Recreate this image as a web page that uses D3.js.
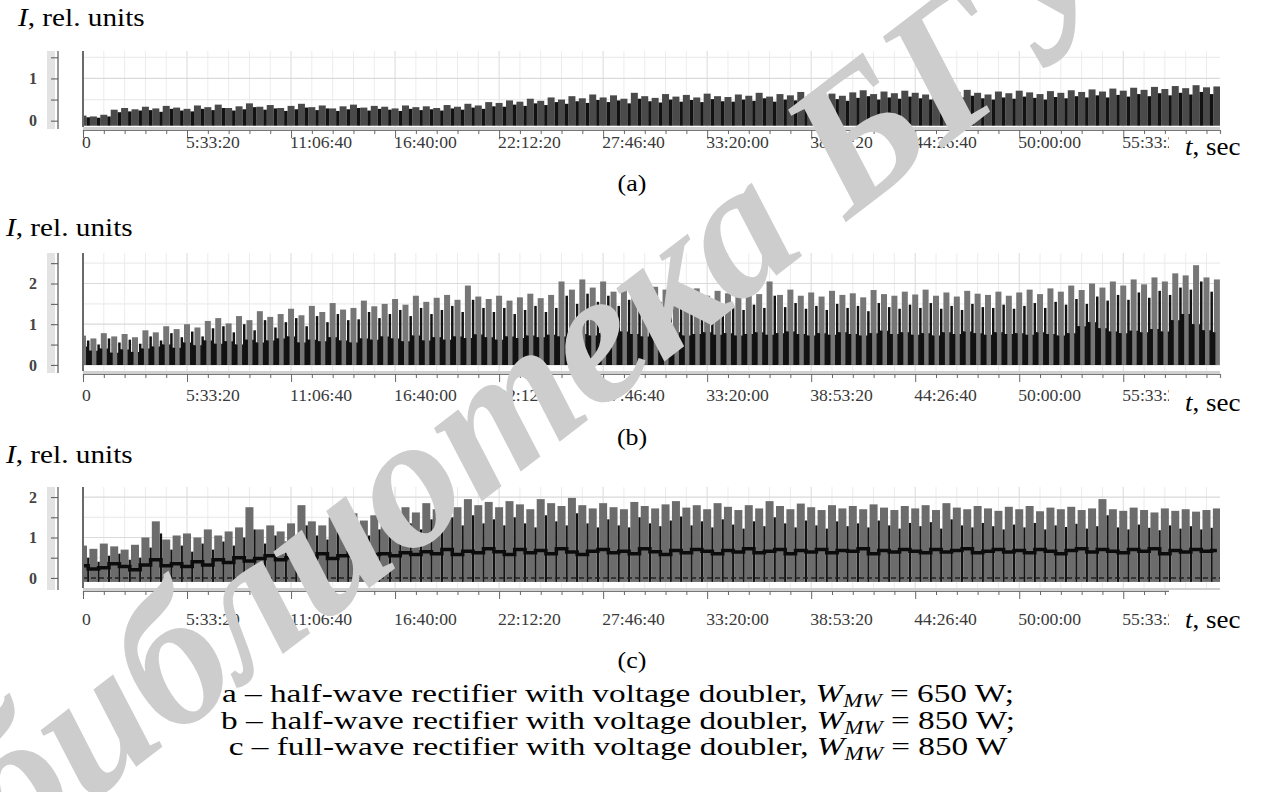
<!DOCTYPE html>
<html><head><meta charset="utf-8">
<script src="https://cdn.jsdelivr.net/npm/d3@7"></script>
<style>body{margin:0;background:#fff} svg{display:block}</style>
</head><body><svg id="c" width="1261" height="792"></svg>
<script>
// ---------- data ----------
const tickSeconds = [0,20000,40000,60000,80000,100000,120000,140000,160000,180000,200000];
const tickLabels = ["0","5:33:20","11:06:40","16:40:00","22:12:20","27:46:40","33:20:00","38:53:20","44:26:40","50:00:00","55:33:20"];
const sampleStep = 2000; // s between read samples
const tMax = 218600;

// (a) half-wave, 650 W
const aHi = [0.12,0.10,0.14,0.26,0.30,0.27,0.33,0.29,0.35,0.31,
 0.28,0.36,0.32,0.38,0.30,0.34,0.41,0.33,0.37,0.30,
 0.35,0.40,0.32,0.36,0.29,0.34,0.38,0.31,0.35,0.33,
 0.29,0.36,0.32,0.34,0.30,0.37,0.33,0.40,0.36,0.44,
 0.42,0.48,0.45,0.52,0.47,0.55,0.50,0.58,0.53,0.62,
 0.55,0.60,0.52,0.66,0.58,0.54,0.63,0.57,0.61,0.55,
 0.64,0.58,0.56,0.62,0.59,0.66,0.57,0.63,0.60,0.68,
 0.62,0.70,0.64,0.59,0.67,0.72,0.63,0.69,0.65,0.71,
 0.66,0.62,0.70,0.64,0.68,0.73,0.66,0.62,0.69,0.65,
 0.71,0.67,0.63,0.70,0.66,0.72,0.68,0.74,0.69,0.76,
 0.71,0.78,0.73,0.80,0.75,0.82,0.77,0.84,0.79,0.81];
const aDark = [0.08,0.07,0.10,0.20,0.22,0.24,0.25,0.21,0.28,0.24,
 0.22,0.28,0.25,0.30,0.24,0.27,0.32,0.26,0.29,0.23,
 0.27,0.31,0.25,0.29,0.23,0.27,0.30,0.24,0.28,0.26,
 0.23,0.28,0.25,0.27,0.24,0.29,0.26,0.31,0.28,0.34,
 0.33,0.38,0.35,0.41,0.37,0.44,0.40,0.46,0.42,0.49,
 0.44,0.48,0.41,0.52,0.46,0.43,0.50,0.45,0.49,0.44,
 0.51,0.46,0.45,0.50,0.47,0.53,0.45,0.50,0.48,0.54,
 0.50,0.56,0.51,0.47,0.54,0.58,0.50,0.55,0.52,0.57,
 0.53,0.50,0.56,0.51,0.55,0.59,0.53,0.50,0.55,0.52,
 0.57,0.54,0.50,0.56,0.53,0.58,0.55,0.60,0.55,0.61,
 0.57,0.63,0.58,0.65,0.60,0.66,0.62,0.68,0.63,0.66];
const aFloor = -0.12;

// (b) half-wave, 850 W
const bHi = [0.72,0.65,0.78,0.70,0.76,0.68,0.85,0.80,0.95,0.88,
 1.00,0.92,1.08,1.15,1.02,1.20,1.10,1.32,1.18,1.25,
 1.38,1.22,1.45,1.30,1.52,1.36,1.40,1.58,1.44,1.50,
 1.62,1.48,1.70,1.55,1.65,1.72,1.60,1.95,1.68,1.62,
 1.70,1.58,1.66,1.75,1.64,1.72,2.05,1.85,2.10,1.90,
 2.05,1.80,1.98,2.08,1.75,1.92,1.85,2.00,1.78,1.88,
 1.70,1.82,1.76,1.68,1.80,1.74,2.05,1.72,1.85,1.70,
 1.78,1.68,1.82,1.72,1.76,1.66,1.84,1.74,1.70,1.80,
 1.73,1.85,1.70,1.78,1.68,1.82,1.75,1.72,1.80,1.70,
 1.78,1.85,1.74,1.88,1.80,1.95,1.84,2.00,1.90,2.05,
 1.95,2.10,1.98,2.15,2.05,2.25,2.20,2.45,2.15,2.10];
const bDark = [0.60,0.50,0.65,0.55,0.62,0.52,0.70,0.60,0.78,0.68,
 0.82,0.70,0.90,0.95,0.80,1.00,0.85,1.10,0.92,1.05,
 1.15,0.95,1.20,1.05,1.25,1.10,1.12,1.30,1.15,1.25,
 1.35,1.20,1.40,1.25,1.35,1.45,1.30,1.60,1.40,1.30,
 1.40,1.25,1.35,1.45,1.30,1.40,1.70,1.50,1.75,1.55,
 1.70,1.45,1.60,1.72,1.40,1.55,1.50,1.65,1.42,1.55,
 1.40,1.50,1.45,1.35,1.48,1.40,1.70,1.42,1.52,1.38,
 1.45,1.35,1.50,1.40,1.45,1.32,1.52,1.42,1.38,1.48,
 1.40,1.52,1.38,1.45,1.35,1.50,1.42,1.40,1.48,1.38,
 1.45,1.52,1.40,1.55,1.48,1.62,1.50,1.68,1.58,1.72,
 1.60,1.78,1.65,1.82,1.72,1.90,1.85,2.05,1.80,1.75];
const bBase = [0.45,0.35,0.40,0.30,0.38,0.32,0.40,0.45,0.50,0.42,
 0.55,0.48,0.60,0.52,0.58,0.50,0.62,0.55,0.60,0.65,
 0.70,0.55,0.62,0.58,0.68,0.60,0.55,0.65,0.62,0.70,
 0.65,0.58,0.72,0.60,0.68,0.62,0.70,0.66,0.75,0.68,
 0.62,0.70,0.66,0.72,0.68,0.74,0.70,0.80,0.76,0.72,
 0.78,0.74,0.82,0.76,0.70,0.78,0.74,0.80,0.72,0.76,
 0.80,0.74,0.78,0.72,0.76,0.80,0.74,0.78,0.82,0.76,
 0.72,0.78,0.74,0.80,0.76,0.72,0.78,0.84,0.76,0.80,
 0.74,0.78,0.72,0.80,0.76,0.82,0.78,0.74,0.80,0.76,
 0.78,0.74,0.80,0.76,0.72,0.78,0.95,1.05,0.90,0.82,
 0.78,0.84,0.80,0.88,0.82,1.10,1.25,1.00,0.85,0.80];

// (c) full-wave, 850 W
const cHi = [0.80,0.72,0.85,0.78,0.70,0.82,1.00,1.40,0.95,1.05,
 1.10,1.00,1.20,1.05,1.15,1.25,1.75,1.20,1.30,1.15,
 1.35,1.80,1.40,1.30,1.50,1.45,1.60,1.42,1.55,1.65,
 1.55,1.75,1.62,1.85,1.70,1.90,1.75,1.95,1.80,1.88,
 1.75,1.90,1.82,1.70,1.95,1.85,1.78,1.98,1.80,1.72,
 1.85,1.75,1.70,1.88,1.78,1.72,1.82,1.90,1.74,1.80,
 1.70,1.85,1.76,1.68,1.80,1.72,1.90,1.78,1.70,1.84,
 1.75,1.68,1.80,1.72,1.78,1.70,1.82,1.74,1.68,1.78,
 1.72,1.80,1.68,1.85,1.74,1.70,1.78,1.72,1.66,1.76,
 1.70,1.78,1.65,1.74,1.70,1.76,1.68,1.72,1.95,1.70,
 1.66,1.74,1.68,1.62,1.72,1.66,1.70,1.64,1.68,1.72];
const cDark = [0.50,0.40,0.55,0.60,0.45,0.50,0.75,1.10,0.70,0.80,
 0.65,0.85,0.70,0.90,0.80,1.00,1.20,0.85,1.05,0.90,
 1.00,1.30,1.05,0.95,1.15,1.10,1.25,1.05,1.20,1.30,
 1.15,1.35,1.20,1.45,1.25,1.50,1.30,1.55,1.35,1.45,
 1.30,1.50,1.35,1.25,1.55,1.40,1.30,1.60,1.35,1.25,
 1.45,1.30,1.25,1.50,1.35,1.28,1.42,1.52,1.30,1.40,
 1.25,1.45,1.32,1.22,1.40,1.28,1.50,1.35,1.25,1.42,
 1.30,1.22,1.40,1.28,1.35,1.25,1.42,1.30,1.22,1.36,
 1.28,1.38,1.22,1.45,1.30,1.25,1.36,1.28,1.20,1.32,
 1.25,1.36,1.20,1.30,1.26,1.34,1.22,1.28,1.55,1.25,
 1.20,1.32,1.24,1.18,1.30,1.22,1.28,1.20,1.24,1.30];
const cCore = [0.30,0.22,0.25,0.35,0.28,0.20,0.32,0.45,0.30,0.35,
 0.28,0.40,0.32,0.45,0.38,0.50,0.42,0.48,0.55,0.45,
 0.50,0.58,0.52,0.60,0.48,0.55,0.62,0.50,0.58,0.60,
 0.55,0.62,0.58,0.65,0.60,0.70,0.58,0.66,0.62,0.72,
 0.65,0.58,0.70,0.62,0.68,0.60,0.72,0.64,0.58,0.66,
 0.70,0.62,0.66,0.60,0.72,0.65,0.58,0.68,0.62,0.70,
 0.66,0.60,0.68,0.64,0.72,0.62,0.66,0.70,0.60,0.68,
 0.64,0.70,0.62,0.68,0.66,0.72,0.60,0.68,0.64,0.70,
 0.66,0.62,0.70,0.64,0.68,0.72,0.62,0.66,0.70,0.64,
 0.68,0.62,0.70,0.66,0.60,0.68,0.72,0.64,0.70,0.66,
 0.62,0.70,0.66,0.72,0.60,0.68,0.64,0.70,0.66,0.68];

const panelLetters = ["(a)","(b)","(c)"];
const captionRows = [
  ["a – half-wave rectifier with voltage doubler, ", "650 W;"],
  ["b – half-wave rectifier with voltage doubler, ", "850 W;"],
  ["c – full-wave rectifier with voltage doubler, ", "850 W"]
];
const watermarkText = "библиотека БГУИР";

// ---------- drawing ----------
const svg = d3.select("#c");
const serif = "'Liberation Serif','Times New Roman',serif";
const x = d3.scaleLinear().domain([0, tMax]).range([83, 1220]);
const minorTicks = d3.range(0, tMax, 4000);
const layerPlots = svg.append("g");
const layerMark = svg.append("g");
const layerText = svg.append("g");

// text with a horizontal stretch (the reference page is scaled wider than tall)
function sText(parent, px, py, size, stretch, anchor) {
  return parent.append("text")
    .attr("transform", `translate(${px},${py}) scale(${stretch},1)`)
    .attr("text-anchor", anchor || "start")
    .attr("font-family", serif).attr("font-size", size).attr("fill", "#000");
}

function drawPanel(p, idx) {
  const y = d3.scaleLinear().domain(p.yDomain).range([p.bottom, p.top]);
  const g = layerPlots.append("g");
  const clipId = "clip" + idx;
  svg.append("clipPath").attr("id", clipId).append("rect")
    .attr("x", x(0)).attr("y", p.top).attr("width", x(tMax) - x(0)).attr("height", p.bottom - p.top);

  // grid
  g.append("g").selectAll("line").data(minorTicks).join("line")
    .attr("x1", d => x(d)).attr("x2", d => x(d)).attr("y1", p.top).attr("y2", p.bottom)
    .attr("stroke", d => d % 20000 === 0 ? "#dadada" : "#ececec").attr("stroke-width", 1);
  g.append("g").selectAll("line").data(p.yGrid).join("line")
    .attr("x1", x(0)).attr("x2", x(tMax)).attr("y1", d => y(d)).attr("y2", d => y(d))
    .attr("stroke", d => Number.isInteger(d) ? "#dadada" : "#ececec").attr("stroke-width", 1.2);

  const data = g.append("g").attr("clip-path", `url(#${clipId})`);
  const t = i => i * sampleStep;

  if (p.base) {
    data.append("path").datum(p.base)
      .attr("d", d3.area().x((d, i) => x(t(i))).y0(y(p.floor)).y1(d => y(d)).curve(d3.curveStep))
      .attr("fill", "#151515");
  }
  // gray spikes
  data.append("g").selectAll("line").data(p.hi).join("line")
    .attr("x1", (d, i) => x(t(i))).attr("x2", (d, i) => x(t(i)))
    .attr("y1", y(p.floor)).attr("y2", d => y(d))
    .attr("stroke", p.grayColor).attr("stroke-width", p.grayWidth);
  if (p.base) {
    data.append("g").selectAll("line").data(p.base).join("line")
      .attr("x1", (d, i) => x(t(i)) - 3).attr("x2", (d, i) => x(t(i)) - 3)
      .attr("y1", y(p.floor)).attr("y2", d => y(d))
      .attr("stroke", "#111").attr("stroke-width", 3);
  }
  // black spikes
  data.append("g").selectAll("line").data(p.dark).join("line")
    .attr("x1", (d, i) => x(t(i) + sampleStep / 2)).attr("x2", (d, i) => x(t(i) + sampleStep / 2))
    .attr("y1", y(p.floor)).attr("y2", d => y(d))
    .attr("stroke", "#121212").attr("stroke-width", p.darkWidth);
  if (p.core) {
    data.append("path").datum(p.core)
      .attr("d", d3.line().x((d, i) => x(t(i))).y(d => y(d)).curve(d3.curveStep))
      .attr("fill", "none").attr("stroke", "#0c0c0c").attr("stroke-width", 3.5);
    data.append("line").attr("x1", x(0)).attr("x2", x(tMax)).attr("y1", y(0)).attr("y2", y(0))
      .attr("stroke", "#222").attr("stroke-width", 1.5).attr("stroke-dasharray", "5,3");
  }

  // plot frame: left border
  g.append("line").attr("x1", x(0)).attr("x2", x(0)).attr("y1", p.top).attr("y2", p.bottom)
    .attr("stroke", "#6a6a6a").attr("stroke-width", 2);

  // left y axis with strip
  g.append("rect").attr("x", 47).attr("y", p.top).attr("width", 8).attr("height", p.bottom - p.top + 2).attr("fill", "#e3e3e3");
  const ya = g.append("g").attr("transform", "translate(58,0)")
    .call(d3.axisLeft(y).tickValues(p.yGrid).tickSize(7).tickPadding(14)
      .tickFormat(d => Number.isInteger(d) ? d : ""));
  ya.select(".domain").attr("stroke", "#555").attr("stroke-width", 1.2).attr("d", `M0,${p.top}V${p.bottom + 2}`);
  ya.selectAll(".tick line").attr("stroke", "#555");
  ya.selectAll("text").attr("font-family", serif).attr("font-size", 16).attr("font-weight", "bold").attr("fill", "#444");

  // bottom axis
  const axY = p.bottom + 3;
  g.append("rect").attr("x", x(0)).attr("y", p.bottom).attr("width", x(tMax) - x(0)).attr("height", 3).attr("fill", "#d0d0d0");
  const xa = g.append("g").attr("transform", `translate(0,${axY})`)
    .call(d3.axisBottom(x).tickValues(minorTicks).tickSize(4).tickFormat(""));
  xa.select(".domain").attr("stroke", "#777").attr("stroke-width", 1.2);
  xa.selectAll(".tick line").attr("stroke", "#666").attr("y2", d => d % 20000 === 0 ? 8 : 4);

  const lab = g.append("g");
  tickSeconds.forEach((d, i) => {
    sText(lab, x(d) - 1, p.labelY, 16.5, 1.07).attr("fill", "#3a3a3a").text(tickLabels[i]);
  });
  // white patch hiding the clipped last label
  g.append("rect").attr("x", 1169).attr("y", p.coverTop).attr("width", 92).attr("height", p.labelY + 10 - p.coverTop).attr("fill", "#fff");

  // axis titles
  const yt = sText(layerText, p.titleX, p.titleY, 25, 1.17);
  yt.append("tspan").attr("font-style", "italic").text("I");
  yt.append("tspan").text(", rel. units");
  const xt = sText(layerText, 1185, p.tTitleY, 25, 1.08);
  xt.append("tspan").attr("font-style", "italic").text("t");
  xt.append("tspan").text(", sec");
  sText(layerText, 632, p.letterY, 24, 1.08, "middle").text(panelLetters[idx]);
}

const panels = [
  { hi: aHi, dark: aDark, floor: aFloor, yDomain: [-0.15, 1.65], top: 51, bottom: 127,
    yGrid: [0, 0.5, 1, 1.5], grayColor: "#4a4a4a", grayWidth: 7, darkWidth: 3.5,
    labelY: 148, coverTop: 134, titleX: 18, titleY: 26, tTitleY: 155, letterY: 191 },
  { hi: bHi, dark: bDark, base: bBase, floor: 0, yDomain: [-0.15, 2.75], top: 253, bottom: 371,
    yGrid: [0, 0.5, 1, 1.5, 2, 2.5], grayColor: "#767676", grayWidth: 6, darkWidth: 2.5,
    labelY: 401, coverTop: 386, titleX: 6, titleY: 236, tTitleY: 411, letterY: 445 },
  { hi: cHi, dark: cDark, core: cCore, floor: -0.1, yDomain: [-0.25, 2.25], top: 487, bottom: 588,
    yGrid: [0, 0.5, 1, 1.5, 2], grayColor: "#6c6c6c", grayWidth: 8, darkWidth: 2.2,
    labelY: 625, coverTop: 590, titleX: 6, titleY: 463, tTitleY: 628, letterY: 668 }
];
panels.forEach(drawPanel);

// captions
captionRows.forEach((row, i) => {
  const tx = sText(layerText, 618, 702 + i * 26.5, 26, 1.28, "middle");
  tx.append("tspan").text(row[0]);
  tx.append("tspan").attr("font-style", "italic").text("W");
  tx.append("tspan").attr("font-style", "italic").attr("font-size", 18).attr("dy", 5).text("MW");
  tx.append("tspan").attr("dy", -5).text(" = " + row[1]);
});

// watermark (light grey, over the plots)
layerMark.append("text").attr("transform", "translate(12,862) rotate(-37.5)")
  .attr("font-family", serif).attr("font-style", "italic").attr("font-weight", "bold")
  .attr("font-size", 190).attr("fill", "#cdcdcd")
  .text(watermarkText);
</script></body></html>
